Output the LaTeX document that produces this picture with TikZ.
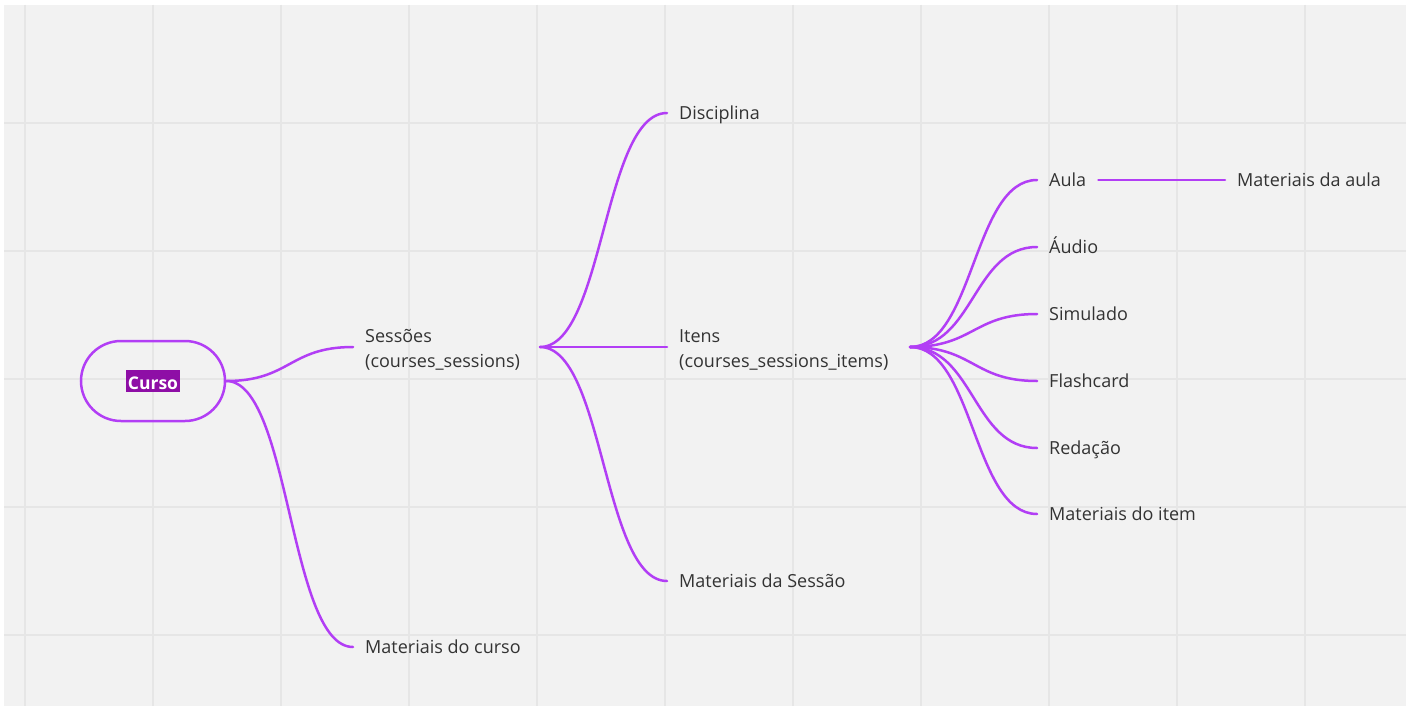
\documentclass[tikz,border=0pt]{standalone}
\usepackage{fontspec}
\setmainfont{Open Sans}
\definecolor{connc}{RGB}{178,62,245}
\definecolor{hl}{RGB}{142,14,166}
\definecolor{txt}{RGB}{51,51,51}
\definecolor{bg}{RGB}{242,242,242}
\definecolor{gridc}{RGB}{230,230,230}
\begin{document}
\begin{tikzpicture}[x=1pt,y=-1pt,
  conn/.style={draw=connc, line width=2.5pt, line cap=round},
  curve/.style={out=0, in=180, out distance=64pt, in distance=64pt},
  lbl/.style={anchor=west, inner xsep=12pt, inner ysep=0pt, text height=13pt, text depth=0pt, text=txt, font=\fontsize{18}{25}\selectfont},
  lbl2/.style={lbl, text depth=23pt},
  pill/.style={draw=connc, line width=2.5pt, rounded corners=40pt, minimum width=144pt, minimum height=80pt, inner sep=0pt, font=\fontsize{17.5}{22}\selectfont},
  gridline/.style={draw=gridc, line width=1.5pt}
]
\useasboundingbox (0,0) rectangle (1415,706);
\fill[white] (0,0) rectangle (1415,706);
\fill[bg] (4,5) rectangle (1406,706);
\foreach \x in {25,153,...,1305} \draw[gridline] (\x,5) -- (\x,706);
\foreach \y in {123,251,...,635} \draw[gridline] (4,\y) -- (1406,\y);

\node[pill] (curso) at (153,381) {\setlength{\fboxsep}{1pt}\colorbox{hl}{\rule[-1.5pt]{0pt}{20pt}\hspace{1pt}\textcolor{white}{\bfseries Curso}\hspace{1pt}}};

\node[lbl2] (ses) at (353,347) {\begin{tabular}[t]{@{}l@{}}Sessões\\(courses\_sessions)\end{tabular}};
\node[lbl] (matcur) at (353,647) {Materiais do curso};
\node[lbl] (disc) at (667,113) {Disciplina};
\node[lbl2] (itens) at (667,347) {\begin{tabular}[t]{@{}l@{}}Itens\\(courses\_sessions\_items)\end{tabular}};
\node[lbl] (matses) at (667,581) {Materiais da Sessão};
\node[lbl] (aula) at (1037,180) {Aula};
\node[lbl] (audio) at (1037,247) {Áudio};
\node[lbl] (sim) at (1037,314) {Simulado};
\node[lbl] (flash) at (1037,381) {Flashcard};
\node[lbl] (red) at (1037,448) {Redação};
\node[lbl] (matitem) at (1037,514) {Materiais do item};
\node[lbl] (mataula) at (1225,180) {Materiais da aula};

\coordinate (sesHub) at (540,347);
\coordinate (itHub) at (910,347);

\draw[conn] (curso.east) to[curve] (ses.west);
\draw[conn] (curso.east) to[curve] (matcur.west);
\draw[conn] (sesHub) to[curve] (disc.west);
\draw[conn] (sesHub) -- (itens.west);
\draw[conn] (sesHub) to[curve] (matses.west);
\foreach \n in {aula,audio,sim,flash,red,matitem}
  \draw[conn] (itHub) to[curve] (\n.west);
\draw[conn] (aula.east) -- (mataula.west);
\end{tikzpicture}
\end{document}
